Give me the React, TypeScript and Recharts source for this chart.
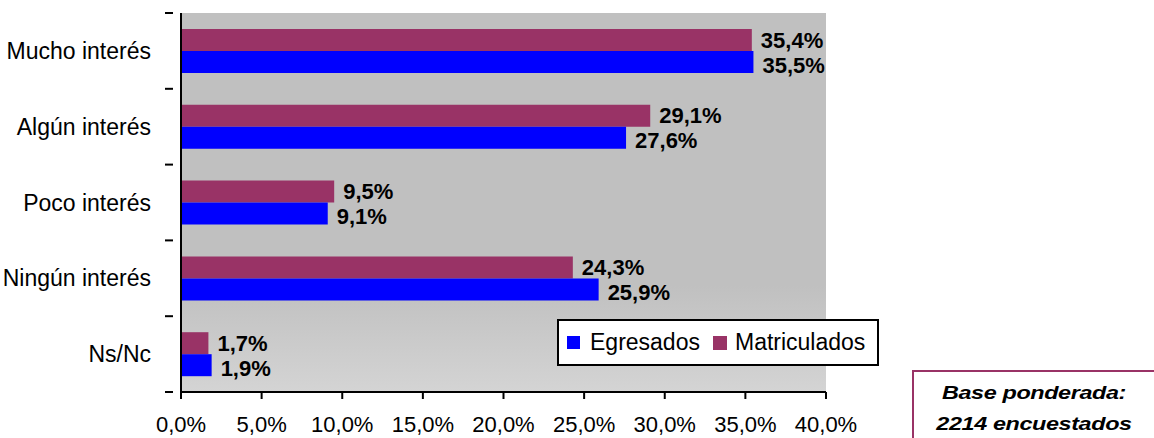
import React from 'react';
import { BarChart, Bar, XAxis, YAxis, CartesianGrid, LabelList } from 'recharts';

const categories = ['Mucho interés', 'Algún interés', 'Poco interés', 'Ningún interés', 'Ns/Nc'];
const matriculados = [35.4, 29.1, 9.5, 24.3, 1.7];
const egresados = [35.5, 27.6, 9.1, 25.9, 1.9];
const xTicks = [0, 5, 10, 15, 20, 25, 30, 35, 40];

const FONT = '"Liberation Sans", Arial, sans-serif';
const PLOT_TOP = 13;
const PLOT_BOTTOM = 392;
const BAND = (PLOT_BOTTOM - PLOT_TOP) / categories.length;

const data = categories.map((name, i) => ({
  name,
  matriculados: matriculados[i],
  egresados: egresados[i],
}));

const pct = (v: number) => v.toFixed(1).replace('.', ',') + '%';

const CategoryTick = (props: any) => {
  const { x, y, payload, index } = props;
  return (
    <g>
      <text
        x={x - 22}
        y={y}
        textAnchor="end"
        dominantBaseline="central"
        fontFamily={FONT}
        fontSize={23}
        fill="#000"
      >
        {payload.value}
      </text>
      <line x1={x - 8} x2={x} y1={y - BAND / 2} y2={y - BAND / 2} stroke="#000" strokeWidth={2} />
      {index === categories.length - 1 && (
        <line x1={x - 8} x2={x} y1={y + BAND / 2} y2={y + BAND / 2} stroke="#000" strokeWidth={2} />
      )}
    </g>
  );
};

// shift keeps the two stacked labels from colliding
const makeLabel = (shift: number) => (props: any) => {
  const { x, y, width, height, value } = props;
  return (
    <text
      x={x + width + 9}
      y={y + height / 2 + shift}
      dominantBaseline="central"
      fontFamily={FONT}
      fontSize={22}
      fontWeight="bold"
      fill="#000"
    >
      {pct(value)}
    </text>
  );
};
const MatLabel = makeLabel(0);
const EgrLabel = makeLabel(3);

const LegendBox = () => (
  <div
    style={{
      position: 'absolute',
      left: 557,
      top: 319,
      boxSizing: 'border-box',
      width: 322,
      height: 47,
      border: '2px solid #000',
      background: '#fff',
      display: 'flex',
      alignItems: 'center',
      fontFamily: FONT,
      fontSize: 23,
      color: '#000',
      paddingLeft: 8,
    }}
  >
    <span style={{ width: 13, height: 13, background: '#0000FF', display: 'inline-block' }} />
    <span style={{ marginLeft: 10 }}>Egresados</span>
    <span style={{ width: 14, height: 14, background: '#993366', display: 'inline-block', marginLeft: 13 }} />
    <span style={{ marginLeft: 8 }}>Matriculados</span>
  </div>
);

export default function App() {
  return (
    <div style={{ position: 'absolute', left: 0, top: 0, width: 1154, height: 438, background: '#fff' }}>
      <BarChart
        width={1154}
        height={438}
        data={data}
        layout="vertical"
        margin={{ top: PLOT_TOP, right: 328, bottom: 0, left: 0 }}
        barGap={0}
      >
        <defs>
          <linearGradient id="plotBg" x1="0" y1="0" x2="0" y2="1">
            <stop offset="0%" stopColor="#C0C0C0" />
            <stop offset="72%" stopColor="#C0C0C0" />
            <stop offset="100%" stopColor="#D4D4D4" />
          </linearGradient>
        </defs>
        <CartesianGrid horizontal={false} vertical={false} fill="url(#plotBg)" fillOpacity={1} />
        <XAxis
          type="number"
          domain={[0, 40]}
          ticks={xTicks}
          tickFormatter={pct}
          height={438 - PLOT_BOTTOM}
          tickSize={7}
          tickMargin={17}
          axisLine={{ stroke: '#000', strokeWidth: 2 }}
          tickLine={{ stroke: '#000', strokeWidth: 2 }}
          tick={{ fill: '#000', fontSize: 22, fontFamily: FONT }}
          interval={0}
        />
        <YAxis
          type="category"
          dataKey="name"
          width={181}
          tickLine={false}
          axisLine={{ stroke: '#000', strokeWidth: 2 }}
          tick={<CategoryTick />}
          interval={0}
        />
        <Bar dataKey="matriculados" name="Matriculados" fill="#993366" barSize={22} isAnimationActive={false}>
          <LabelList dataKey="matriculados" content={<MatLabel />} />
        </Bar>
        <Bar dataKey="egresados" name="Egresados" fill="#0000FF" barSize={22} isAnimationActive={false}>
          <LabelList dataKey="egresados" content={<EgrLabel />} />
        </Bar>
      </BarChart>
      <LegendBox />
      <div
        style={{
          position: 'absolute',
          left: 912,
          top: 370,
          width: 242,
          height: 68,
          boxSizing: 'border-box',
          borderLeft: '2px solid #993366',
          borderTop: '2px solid #993366',
          fontFamily: FONT,
          fontWeight: 'bold',
          fontStyle: 'italic',
          fontSize: 18,
          lineHeight: '31px',
          color: '#000',
          textAlign: 'center',
          paddingTop: 6,
        }}
      >
        <div style={{ transform: 'scaleX(1.3)', letterSpacing: -0.3 }}>Base ponderada:</div>
        <div style={{ transform: 'scaleX(1.3)', letterSpacing: -0.3 }}>2214 encuestados</div>
      </div>
    </div>
  );
}
